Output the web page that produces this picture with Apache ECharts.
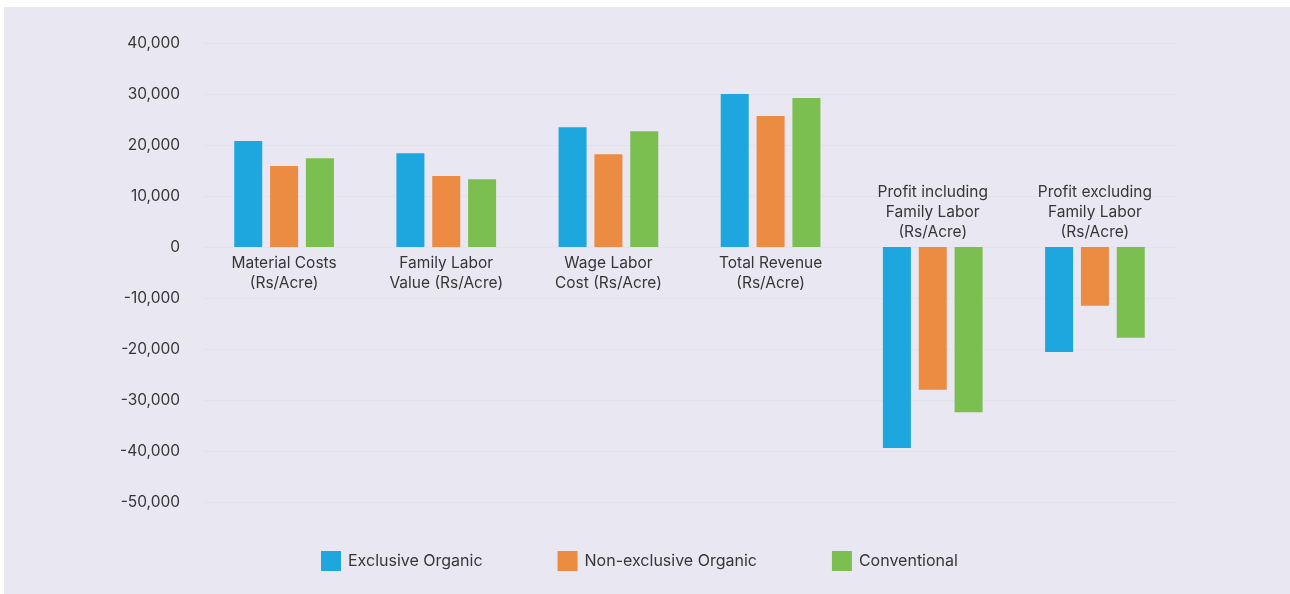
<!DOCTYPE html>
<html>
<head>
<meta charset="utf-8">
<script src="https://cdn.jsdelivr.net/npm/echarts@6/dist/echarts.min.js"></script>
<style>
  html, body { margin: 0; padding: 0; background: #ffffff; }
  #bg { position: absolute; left: 4px; top: 7px; right: 0; bottom: 0; background: #e9e7f1; }
  #chart { position: absolute; left: 0; top: 0; width: 1290px; height: 594px; }
</style>
</head>
<body>
<div id="bg"></div>
<div id="chart"></div>
<script>
const categories = [
  "Material Costs\n(Rs/Acre)",
  "Family Labor\nValue (Rs/Acre)",
  "Wage Labor\nCost (Rs/Acre)",
  "Total Revenue\n(Rs/Acre)",
  "Profit including\nFamily Labor\n(Rs/Acre)",
  "Profit excluding\nFamily Labor\n(Rs/Acre)"
];
const seriesNames = ["Exclusive Organic", "Non-exclusive Organic", "Conventional"];
const exclusiveOrganic = [20800, 18400, 23500, 30000, -39400, -20600];
const nonExclusiveOrganic = [15900, 13900, 18200, 25700, -28000, -11500];
const conventional = [17400, 13300, 22700, 29200, -32400, -17800];
const yMin = -50000, yMax = 40000, yInterval = 10000;

const colors = ["#1ea7de", "#ec8b42", "#7abf4f"];
const isNegative = categories.map((c, i) => exclusiveOrganic[i] < 0);
const textColor = "#363636";
const fontFamily = "Inter, 'Noto Sans', sans-serif";

// layout
const W = 1290, H = 594;
const gridTop = 43, gridBottom = 92;
const gridHeight = H - gridTop - gridBottom;
const zeroFromTop = gridHeight * (yMax / (yMax - yMin));
const zeroFromBottom = gridHeight - zeroFromTop;

const chart = echarts.init(document.getElementById('chart'));
const makeSeries = (name, data, idx) => ({
  name: name, type: 'bar', data: data,
  barWidth: 28, barGap: '28%',
  itemStyle: { color: colors[idx] },
  xAxisIndex: 0, yAxisIndex: 0
});
chart.setOption({
  backgroundColor: 'transparent',
  animation: false,
  textStyle: { fontFamily: fontFamily },
  grid: { left: 203, right: 114, top: gridTop, bottom: gridBottom, containLabel: false, outerBoundsMode: 'none' },
  legend: {
    left: 316, top: 546,
    itemWidth: 20, itemHeight: 20, itemGap: 75,
    icon: 'rect',
    textStyle: { color: textColor, fontSize: 16, fontFamily: fontFamily, padding: [0, 0, 0, 2] },
    data: seriesNames
  },
  xAxis: [
    {
      type: 'category', data: categories, position: 'bottom',
      axisLine: { show: false, onZero: false },
      axisTick: { show: false },
      axisLabel: {
        interval: 0, margin: 6 - zeroFromBottom, color: textColor, fontSize: 15.5, lineHeight: 20,
        fontFamily: fontFamily,
        formatter: (v, i) => isNegative[i] ? '' : v
      }
    },
    {
      type: 'category', data: categories, position: 'top',
      axisLine: { show: false, onZero: false },
      axisTick: { show: false },
      axisLabel: {
        interval: 0, margin: 5 - zeroFromTop, color: textColor, fontSize: 15.5, lineHeight: 20,
        fontFamily: fontFamily,
        formatter: (v, i) => isNegative[i] ? v : ''
      }
    }
  ],
  yAxis: {
    type: 'value', min: yMin, max: yMax, interval: yInterval,
    axisLine: { show: false }, axisTick: { show: false },
    splitLine: { show: true, lineStyle: { color: '#e3e1ea', width: 1 } },
    axisLabel: {
      margin: 23, color: textColor, fontSize: 15.5, fontFamily: fontFamily,
      formatter: v => v.toLocaleString('en-US')
    }
  },
  series: [
    makeSeries(seriesNames[0], exclusiveOrganic, 0),
    makeSeries(seriesNames[1], nonExclusiveOrganic, 1),
    makeSeries(seriesNames[2], conventional, 2)
  ]
});
</script>
</body>
</html>
